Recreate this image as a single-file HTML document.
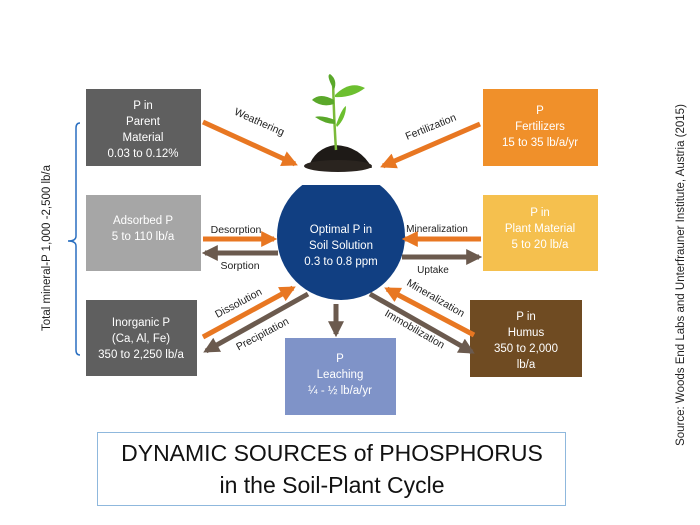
<!DOCTYPE html>
<html><head><meta charset="utf-8"><style>
html,body{margin:0;padding:0;background:#fff;}
svg{display:block;font-family:"Liberation Sans","DejaVu Sans",sans-serif;}
</style></head><body>
<svg width="700" height="525" viewBox="0 0 700 525" xmlns="http://www.w3.org/2000/svg">
<defs>
<marker id="ao" viewBox="0 0 10 10" refX="8" refY="5" markerWidth="3.2" markerHeight="3.2" orient="auto"><path d="M0,0 L10,5 L0,10 Z" fill="#e87722"/></marker>
<marker id="ab" viewBox="0 0 10 10" refX="8" refY="5" markerWidth="3.2" markerHeight="3.2" orient="auto"><path d="M0,0 L10,5 L0,10 Z" fill="#6b5a4e"/></marker>
<clipPath id="cc"><rect x="250" y="185" width="200" height="150"/></clipPath>
</defs>
<rect x="86" y="89" width="115" height="77" fill="#5f5f5f"/>
<rect x="86" y="195" width="115" height="76" fill="#a6a6a6"/>
<rect x="86" y="300" width="111" height="76" fill="#5f5f5f"/>
<rect x="285" y="338" width="111" height="77" fill="#7f93c8"/>
<rect x="470" y="300" width="112" height="77" fill="#6f4b22"/>
<rect x="483" y="89" width="115" height="77" fill="#f0902a"/>
<rect x="483" y="195" width="115" height="76" fill="#f5c04e"/>
<g fill="#fff" font-size="11.5" text-anchor="middle">
<text x="143" y="109">P  in</text><text x="143" y="125">Parent</text><text x="143" y="141">Material</text><text x="143" y="157">0.03 to 0.12%</text>
<text x="143" y="224">Adsorbed P</text><text x="143" y="240">5 to 110 lb/a</text>
<text x="141" y="326">Inorganic P</text><text x="141" y="342">(Ca, Al, Fe)</text><text x="141" y="358">350 to 2,250 lb/a</text>
<text x="340" y="362">P</text><text x="340" y="378">Leaching</text><text x="340" y="394">¼ - ½  lb/a/yr</text>
<text x="526" y="320">P  in</text><text x="526" y="336">Humus</text><text x="526" y="352">350 to  2,000</text><text x="526" y="368">lb/a</text>
<text x="540" y="114">P</text><text x="540" y="130">Fertilizers</text><text x="540" y="146">15 to 35 lb/a/yr</text>
<text x="540" y="216">P in</text><text x="540" y="232">Plant Material</text><text x="540" y="248">5 to 20 lb/a</text>
</g>
<circle cx="341" cy="236" r="64" fill="#113f82" clip-path="url(#cc)"/>
<g fill="#fff" font-size="11.5" text-anchor="middle">
<text x="341" y="233">Optimal P in</text><text x="341" y="249">Soil Solution</text><text x="341" y="265">0.3 to 0.8 ppm</text>
</g>
<!-- plant -->
<path d="M308 168 Q315 148 335 145 Q360 146 372 168 Z" fill="#1e1a17"/>
<ellipse cx="338" cy="166" rx="34" ry="6" fill="#2a241f"/>
<path d="M336 150 Q334 120 333 80" stroke="#7cba3a" stroke-width="2.5" fill="none"/>
<path d="M334 100 Q320 92 312 100 Q322 108 334 104Z" fill="#5aa82a"/>
<path d="M335 95 Q350 80 365 88 Q352 98 335 97Z" fill="#6cbf2f"/>
<path d="M333 88 Q326 75 330 74 Q338 80 334 90Z" fill="#5aa82a"/>
<path d="M336 125 Q342 108 346 106 Q346 118 337 127Z" fill="#6cbf2f"/>
<path d="M335 120 Q322 115 315 117 Q325 124 335 124Z" fill="#5aa82a"/>
<g stroke-width="5" fill="none">
<line x1="203" y1="122" x2="295" y2="164" stroke="#e87722" marker-end="url(#ao)"/>
<line x1="480" y1="124" x2="383" y2="166" stroke="#e87722" marker-end="url(#ao)"/>
<line x1="203" y1="239" x2="274" y2="239" stroke="#e87722" marker-end="url(#ao)"/>
<line x1="278" y1="253" x2="205" y2="253" stroke="#6b5a4e" marker-end="url(#ab)"/>
<line x1="481" y1="239" x2="405" y2="239" stroke="#e87722" marker-end="url(#ao)"/>
<line x1="402" y1="257" x2="479" y2="257" stroke="#6b5a4e" marker-end="url(#ab)"/>
<line x1="203" y1="337" x2="293" y2="288" stroke="#e87722" marker-end="url(#ao)"/>
<line x1="308" y1="294" x2="206" y2="351" stroke="#6b5a4e" marker-end="url(#ab)"/>
<line x1="336" y1="304" x2="336" y2="334" stroke="#6b5a4e" marker-end="url(#ab)"/>
<line x1="474" y1="335" x2="387" y2="289" stroke="#e87722" marker-end="url(#ao)"/>
<line x1="370" y1="294" x2="472" y2="352" stroke="#6b5a4e" marker-end="url(#ab)"/>
</g>
<g fill="#222" font-size="10.5" text-anchor="middle">
<text transform="translate(258 125) rotate(24)">Weathering</text>
<text transform="translate(432 130) rotate(-22)">Fertilization</text>
<text x="236" y="233">Desorption</text>
<text x="240" y="269">Sorption</text>
<text x="437" y="232" font-size="10">Mineralization</text>
<text x="433" y="273" font-size="10">Uptake</text>
<text transform="translate(240 306) rotate(-28)">Dissolution</text>
<text transform="translate(264 337) rotate(-28)">Precipitation</text>
<text transform="translate(434 301) rotate(30)">Mineralization</text>
<text transform="translate(413 332) rotate(30)">Immobilization</text>
</g>
<path d="M80 123 Q76 123 76 128 L76 236 Q76 241 68 241 Q76 241 76 246 L76 350 Q76 355 80 355" stroke="#2a6fc0" stroke-width="1.5" fill="none"/>
<text x="0" y="0" font-size="11.5" fill="#222" text-anchor="middle" transform="translate(50 248) rotate(-90)">Total mineral-P 1,000 -2,500 lb/a</text>
<text x="0" y="0" font-size="11.5" fill="#222" text-anchor="middle" transform="translate(684 275) rotate(-90)">Source: Woods End Labs and Unterfrauner Institute, Austria (2015)</text>
<rect x="97.5" y="432.5" width="468" height="73" fill="#fff" stroke="#8fb8dd" stroke-width="1"/>
<g font-size="23" fill="#111" text-anchor="middle">
<text x="332" y="461">DYNAMIC SOURCES of PHOSPHORUS</text>
<text x="332" y="493">in the Soil-Plant Cycle</text>
</g>
</svg>
</body></html>
